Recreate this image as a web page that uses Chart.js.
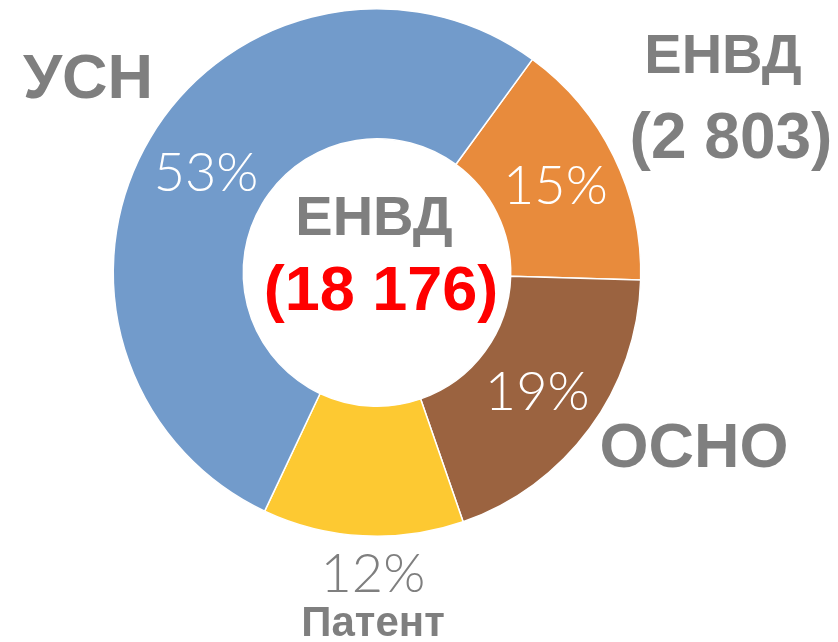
<!DOCTYPE html>
<html>
<head>
<meta charset="utf-8">
<script src="https://cdn.jsdelivr.net/npm/chart.js@4/dist/chart.umd.min.js"></script>
<style>
  html, body { margin: 0; padding: 0; background: #fff; }
  #wrap { width: 838px; height: 642px; }
</style>
</head>
<body>
<div id="wrap"><canvas id="chart" width="838" height="642"></canvas></div>
<script>
const categories = ['ЕНВД', 'ОСНО', 'Патент', 'УСН'];
const counts = [2803, 3500, 2235, 9638];
const percentLabels = ['15%', '19%', '12%', '53%'];
const sliceColors = ['#e88b3c', '#9b6340', '#fdc932', '#729bcb'];

const totalTitle = 'ЕНВД';
const totalValue = '(18 176)';

// text drawn on and around the ring
const labelPlugin = {
    id: 'ringLabels',
    afterDatasetsDraw(chart) {
        const ctx = chart.ctx;
        const arcs = chart.getDatasetMeta(0).data;
        ctx.save();
        ctx.textAlign = 'center';
        ctx.textBaseline = 'middle';

        // percentages
        ctx.font = '300 54px Lato, "DejaVu Sans", sans-serif';
        arcs.forEach((arc, i) => {
            const p = arc.getProps(['x', 'y', 'startAngle', 'endAngle', 'innerRadius', 'outerRadius']);
            const mid = (p.startAngle + p.endAngle) / 2;
            let r = (p.innerRadius + p.outerRadius) / 2;
            let shift = 0;
            let color = '#ffffff';
            if (categories[i] === 'Патент') {
                r = p.outerRadius + 37;
                shift = 12;
                color = '#7f7f7f';
            }
            ctx.fillStyle = color;
            ctx.fillText(percentLabels[i], p.x + Math.cos(mid) * r + shift, p.y + Math.sin(mid) * r + 2);
        });

        // centre text
        const c = arcs[0].getProps(['x', 'y']);
        ctx.fillStyle = '#7f7f7f';
        ctx.font = 'bold 56px "Liberation Sans", Arial, sans-serif';
        ctx.fillText(totalTitle, c.x - 3, c.y - 53);
        ctx.fillStyle = '#ff0000';
        ctx.font = 'bold 63px "Liberation Sans", Arial, sans-serif';
        ctx.fillText(totalValue, c.x + 4, c.y + 20);

        // category names
        ctx.fillStyle = '#7f7f7f';
        ctx.font = 'bold 63px "Liberation Sans", Arial, sans-serif';
        ctx.fillText('УСН', 88, 81);
        ctx.fillText('ОСНО', 694, 450);
        ctx.font = 'bold 56px "Liberation Sans", Arial, sans-serif';
        ctx.fillText('ЕНВД', 723, 58);
        ctx.font = 'bold 64px "Liberation Sans", Arial, sans-serif';
        ctx.fillText('(2 803)', 731, 140);
        ctx.font = 'bold 42px "Liberation Sans", Arial, sans-serif';
        ctx.fillText('Патент', 373, 624);
        ctx.restore();
    }
};

new Chart(document.getElementById('chart'), {
    type: 'doughnut',
    data: {
        labels: categories,
        datasets: [{
            data: counts,
            backgroundColor: sliceColors,
            borderColor: '#ffffff',
            borderWidth: 1.5
        }]
    },
    options: {
        responsive: false,
        animation: false,
        rotation: 36.1,
        cutout: '50.7%',
        layout: {
            padding: { left: 112.5, right: 196.5, top: 8, bottom: 105 }
        },
        plugins: {
            legend: { display: false },
            tooltip: { enabled: false }
        }
    },
    plugins: [labelPlugin]
});
</script>
</body>
</html>
